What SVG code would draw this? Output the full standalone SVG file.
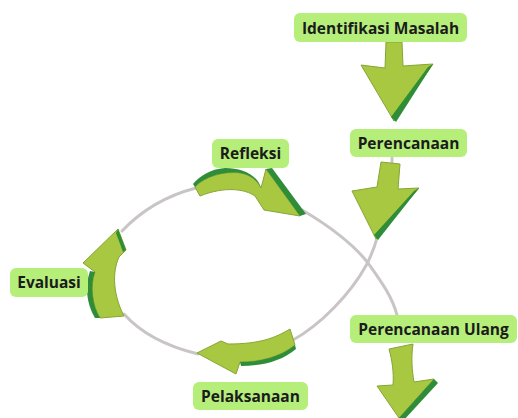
<svg xmlns="http://www.w3.org/2000/svg" width="518" height="418" viewBox="0 0 518 418">
<defs>
<style>
.box{fill:#b5ef7a}
.lbl{font-family:"Open Sans","Liberation Sans",sans-serif;font-weight:700;font-size:15.5px;fill:#1b1b1b;text-anchor:middle}
.arr{fill:#a9c841;stroke:#86a533;stroke-width:1;stroke-linejoin:round}
.band{fill:#2f8d37}
.line{fill:none;stroke:#c9c5c5;stroke-width:3;stroke-linecap:round}
</style>
</defs>
<rect width="518" height="418" fill="#ffffff"/>
<g id="connectors">
<path class="line" d="M122,231 C140,212 165,196 196,188"/>
<path class="line" d="M302,210 C330,226 355,246 368,263 C380,280 392,296 397,315"/>
<path class="line" d="M377,238 C374,250 370,257 367,264 C350,295 320,325 293,340"/>
<path class="line" d="M124,314 C140,332 165,346 198,354"/>
<path class="line" d="M392,157 L392,163"/>
<!-- arrow 1 -->
<path class="arr" d="M386,42 L402,42 L403,66 L433,64 L394,121 L361,65 L385,68 Z"/>
<path class="band" d="M433,64 L396,122 L391,117 L428,67 Z"/>
<!-- arrow 2 -->
<path class="arr" d="M381,162 L400,164 L398,189 L419,188 L376,239 L352,191 L377,187 Z"/>
<path class="band" d="M419,188 L378,240 L374,235 L414,191 Z"/>
<!-- arrow 3 Refleksi -->
<path class="arr" d="M195,187 C205,176 225,171 240,173 C252,175 258,182 261,188 L266,169 L300,216 L264,210 L255,196 C245,189 225,186 200,196 Z"/>
<path class="band" d="M195,187 C205,176 225,171 240,173 C252,175 258,182 261,188 L259,183 C253,173 240,168 225,168 C210,169 200,176 193,184 Z"/>
<path class="band" d="M266,169 L272,168 L306,214 L300,216 Z"/>
<!-- arrow 4 Evaluasi -->
<path class="arr" d="M100,318 C92,305 90,285 95,272 L83,263 L118,229 L126,250 L119,257 C112,272 113,295 124,316 Z"/>
<path class="band" d="M95,272 C90,285 92,305 100,318 L95,318 C86,303 85,285 90,271 Z"/>
<path class="band" d="M118,229 L126,250 L123,252 L116,233 Z"/>
<!-- arrow 5 Pelaksanaan -->
<path class="arr" d="M290,329 C275,338 260,344 228,344 L221,341 L197,353 L236,374 L240,362 C260,362 280,357 295,345 Z"/>
<path class="band" d="M240,362 C260,362 280,357 295,345 L296,349 C282,361 262,366 241,366 Z"/>
<!-- arrow 6 Perencanaan Ulang -->
<path class="arr" d="M389,349 L413,344 C411,358 412,370 414,382 L434,379 L399,418 L377,386 L393,385 C394,372 392,360 389,349 Z"/>
<path class="band" d="M434,379 L438,383 L403,421 L399,418 Z"/>
</g>
<g id="node-identifikasi">
<rect class="box" x="294" y="13" width="173" height="29" rx="6"/>
<text class="lbl" x="380.5" y="33.5">Identifikasi Masalah</text>
</g>
<g id="node-perencanaan">
<rect class="box" x="350" y="129" width="117" height="28" rx="6"/>
<text class="lbl" x="408.5" y="149">Perencanaan</text>
</g>
<g id="node-refleksi">
<rect class="box" x="212" y="139" width="77" height="29" rx="6"/>
<text class="lbl" x="250.5" y="159">Refleksi</text>
</g>
<g id="node-evaluasi">
<rect class="box" x="10" y="268" width="78" height="29" rx="6"/>
<text class="lbl" x="49" y="288">Evaluasi</text>
</g>
<g id="node-pelaksanaan">
<rect class="box" x="193" y="382" width="115" height="28" rx="6"/>
<text class="lbl" x="250.5" y="402">Pelaksanaan</text>
</g>
<g id="node-perencanaan-ulang">
<rect class="box" x="350" y="315" width="167" height="28" rx="6"/>
<text class="lbl" x="433.5" y="335">Perencanaan Ulang</text>
</g>
</svg>
